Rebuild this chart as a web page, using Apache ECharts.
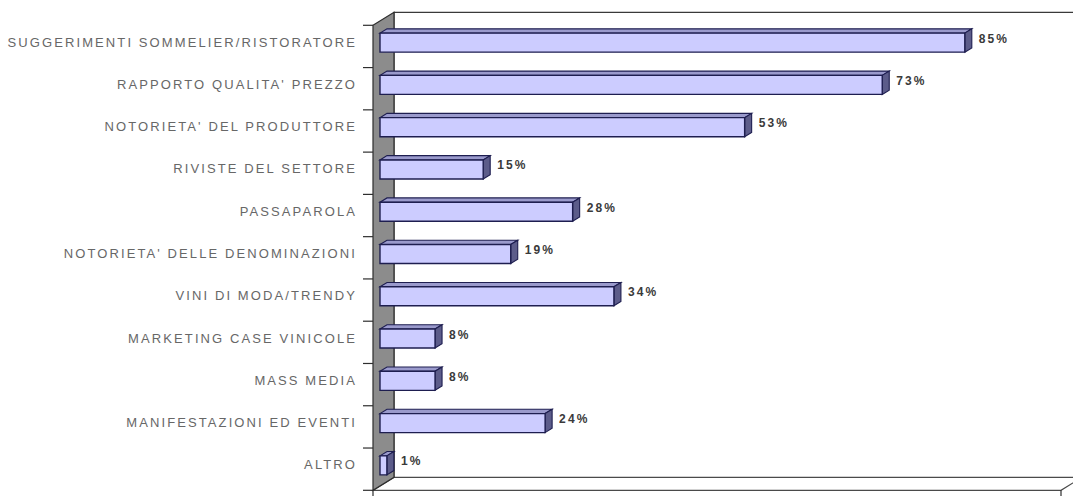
<!DOCTYPE html>
<html>
<head>
<meta charset="utf-8">
<script src="https://cdn.jsdelivr.net/npm/echarts@6/dist/echarts.min.js"></script>
<style>
  html, body { margin: 0; padding: 0; background: #ffffff; }
  #chart { width: 1073px; height: 496px; }
  #chart text { letter-spacing: 2.1px; }
</style>
</head>
<body>
<div id="chart"></div>
<script>
// Survey answers, top to bottom
const categories = [
  'SUGGERIMENTI SOMMELIER/RISTORATORE',
  "RAPPORTO QUALITA' PREZZO",
  "NOTORIETA' DEL PRODUTTORE",
  'RIVISTE DEL SETTORE',
  'PASSAPAROLA',
  "NOTORIETA' DELLE DENOMINAZIONI",
  'VINI DI MODA/TRENDY',
  'MARKETING CASE VINICOLE',
  'MASS MEDIA',
  'MANIFESTAZIONI ED EVENTI',
  'ALTRO'
];
const values = [85, 73, 53, 15, 28, 19, 34, 8, 8, 24, 1];
const valueMin = 0;
const valueMax = 100;

// pseudo-3D depth of a bar, and of the box (front / back planes relative to the bar face)
const BAR_DEPTH = [7, -4.3];
const FRONT = [-7, 4.3];
const BACK = [14, -8.7];

const chart = echarts.init(document.getElementById('chart'), null, { renderer: 'svg' });

function renderFrame(params, api) {
  const band = api.size([0, 1])[1];
  const x0 = api.coord([valueMin, 0])[0];
  const x1 = api.coord([valueMax, 0])[0];
  const yTop = api.coord([valueMin, 0])[1] - band / 2;
  const yBot = yTop + band * categories.length;
  const children = [];
  // floor
  children.push({
    type: 'polygon',
    shape: { points: [
      [x0 + FRONT[0], yBot + FRONT[1]], [x1 + FRONT[0], yBot + FRONT[1]],
      [x1 + BACK[0], yBot + BACK[1]], [x0 + BACK[0], yBot + BACK[1]]
    ] },
    style: { fill: '#ffffff', stroke: '#4a4a4a', lineWidth: 1.2 }
  });
  // back wall top edge and left edge
  children.push({
    type: 'polyline',
    shape: { points: [
      [x0 + BACK[0], yBot + BACK[1]], [x0 + BACK[0], yTop + BACK[1]], [x1 + BACK[0], yTop + BACK[1]]
    ] },
    style: { fill: null, stroke: '#3a3a3a', lineWidth: 1.2 }
  });
  // side wall
  children.push({
    type: 'polygon',
    shape: { points: [
      [x0 + FRONT[0], yTop + FRONT[1]], [x0 + BACK[0], yTop + BACK[1]],
      [x0 + BACK[0], yBot + BACK[1]], [x0 + FRONT[0], yBot + FRONT[1]]
    ] },
    style: { fill: '#8c8c8c', stroke: '#2e2e2e', lineWidth: 1.2 }
  });
  // category ticks on the front edge
  for (let k = 0; k <= categories.length; k++) {
    const y = yTop + FRONT[1] + k * band;
    children.push({
      type: 'line',
      shape: { x1: x0 + FRONT[0] - 10, y1: y, x2: x0 + FRONT[0], y2: y },
      style: { stroke: '#2e2e2e', lineWidth: 1.2 }
    });
  }
  // value axis end ticks
  [x0, x1].forEach(function (x) {
    children.push({
      type: 'line',
      shape: { x1: x + FRONT[0], y1: yBot + FRONT[1], x2: x + FRONT[0], y2: yBot + FRONT[1] + 7 },
      style: { stroke: '#2e2e2e', lineWidth: 1.2 }
    });
  });
  return { type: 'group', children: children };
}

function renderBar(params, api) {
  const v = api.value(0);
  const idx = api.value(1);
  const start = api.coord([valueMin, idx]);
  const end = api.coord([v, idx]);
  const band = api.size([0, 1])[1];
  const h = band * 0.45;
  const xa = start[0], xb = end[0];
  const yc = start[1] + 0.5;
  const yt = yc - h / 2, yb = yc + h / 2;
  const dx = BAR_DEPTH[0], dy = BAR_DEPTH[1];
  const stroke = '#1e1e50';
  return {
    type: 'group',
    children: [
      { type: 'polygon',
        shape: { points: [[xa, yt], [xb, yt], [xb + dx, yt + dy], [xa + dx, yt + dy]] },
        style: { fill: '#9a9acc', stroke: stroke, lineWidth: 1.1 } },
      { type: 'polygon',
        shape: { points: [[xb, yt], [xb + dx, yt + dy], [xb + dx, yb + dy], [xb, yb]] },
        style: { fill: '#5c5c8a', stroke: stroke, lineWidth: 1.1 } },
      { type: 'rect',
        shape: { x: xa, y: yt, width: xb - xa, height: h },
        style: { fill: '#ccccff', stroke: stroke, lineWidth: 1.4 } },
      { type: 'text',
        style: {
          x: xb + 14, y: yc - 4,
          text: v + '%',
          fill: '#3a3a3a',
          font: 'bold 12px "Liberation Sans", Arial, sans-serif',
          textAlign: 'left', textVerticalAlign: 'middle'
        } }
    ]
  };
}

chart.setOption({
  animation: false,
  backgroundColor: '#ffffff',
  grid: { left: 380, top: 21, width: 688, height: 465, containLabel: false },
  xAxis: {
    type: 'value', min: valueMin, max: valueMax,
    show: false
  },
  yAxis: {
    type: 'category', data: categories, inverse: true,
    axisLine: { show: false }, axisTick: { show: false }, splitLine: { show: false },
    axisLabel: {
      margin: 23,
      color: '#676767',
      fontSize: 13,
      fontFamily: '"Liberation Sans", Arial, sans-serif'
    }
  },
  series: [
    {
      type: 'custom', name: 'frame', silent: true, z: 1,
      coordinateSystem: 'cartesian2d',
      data: [[0, 0]],
      renderItem: renderFrame
    },
    {
      type: 'custom', name: 'values', z: 2,
      coordinateSystem: 'cartesian2d',
      encode: { x: 0, y: 1 },
      data: values.map(function (v, i) { return [v, i]; }),
      renderItem: renderBar
    }
  ]
});
</script>
</body>
</html>
